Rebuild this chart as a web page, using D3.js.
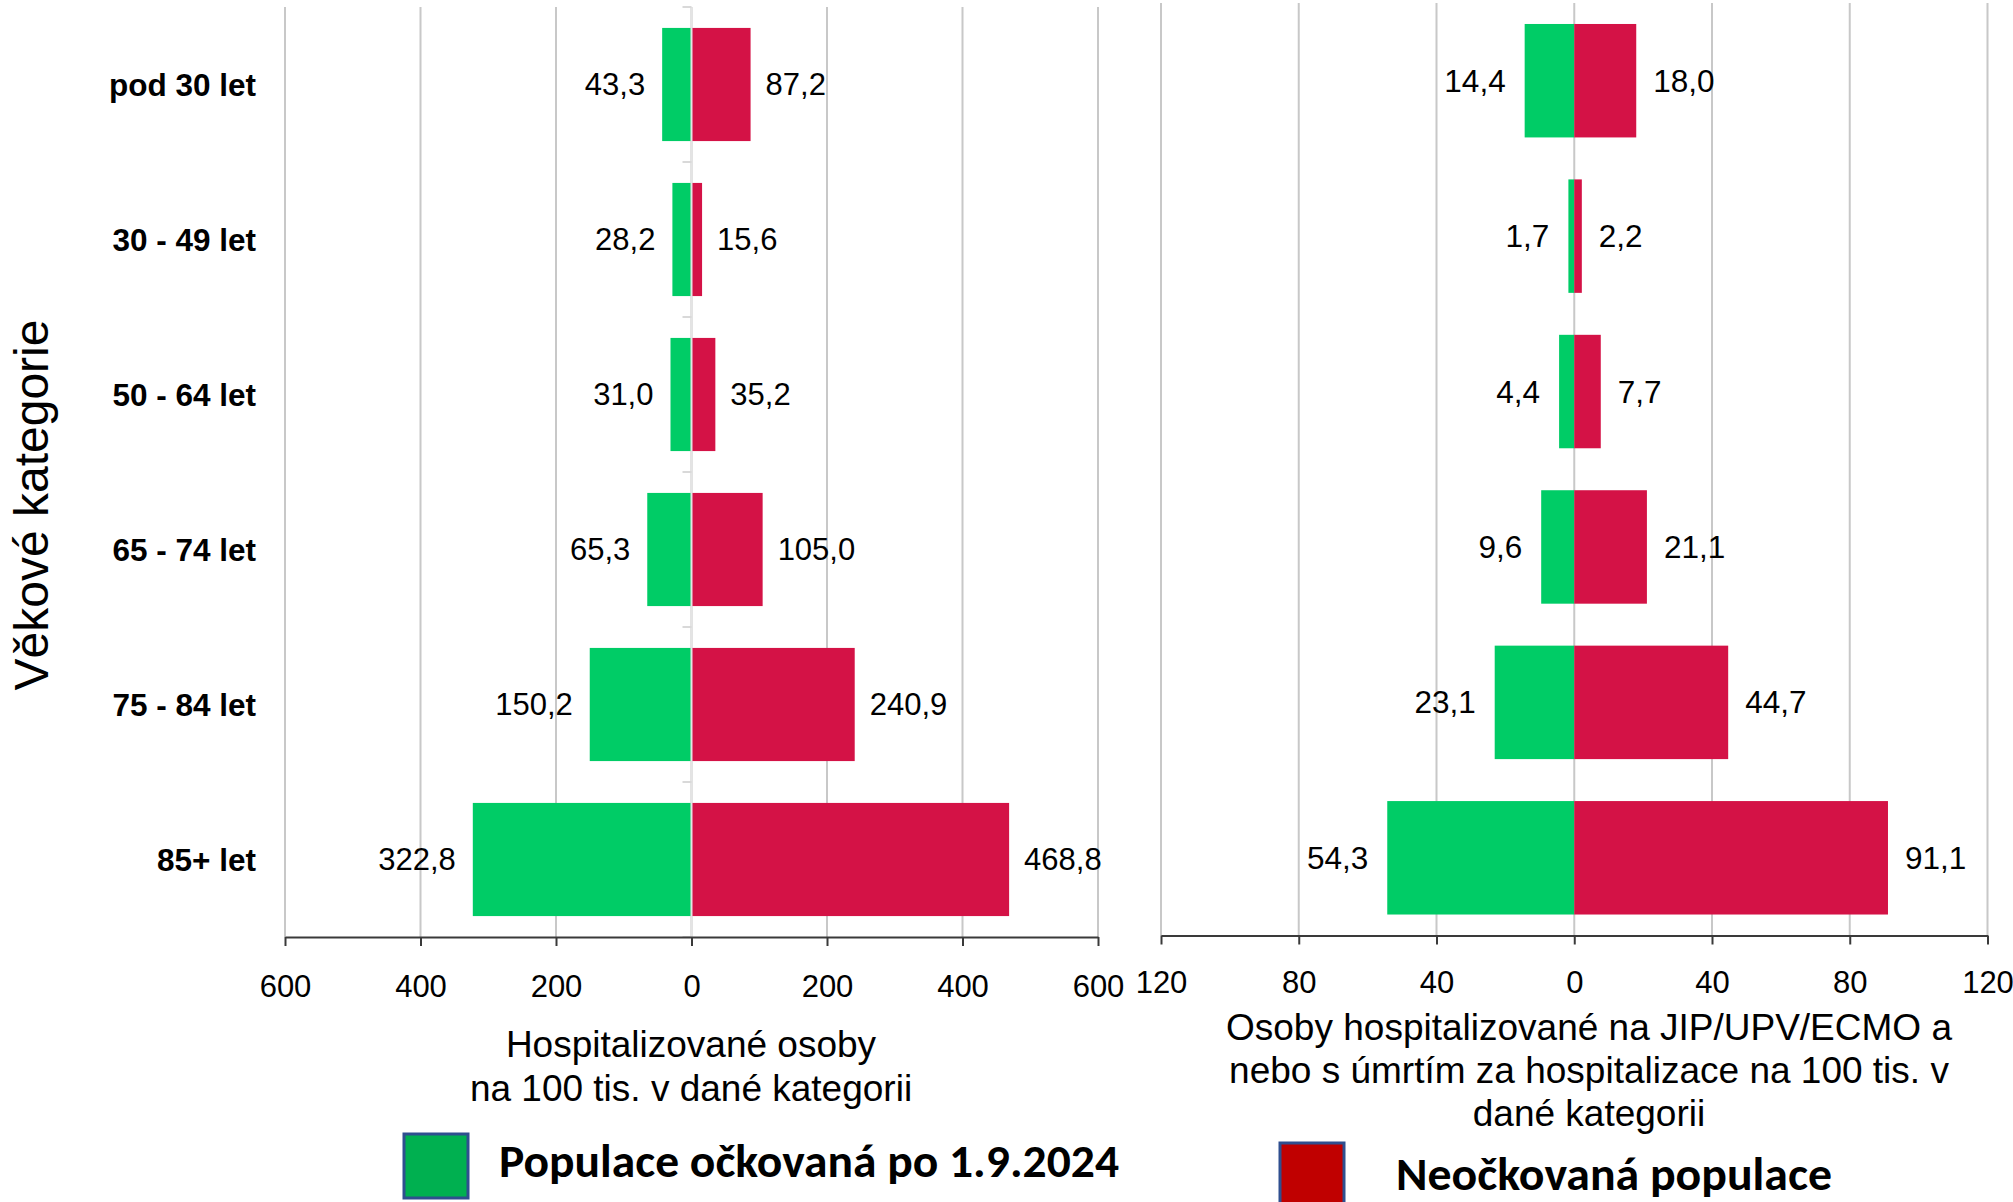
<!DOCTYPE html>
<html>
<head>
<meta charset="utf-8">
<script src="https://cdn.jsdelivr.net/npm/d3@7"></script>
<style>
  body { margin: 0; background: #fff; }
  svg { display: block; }
  text { font-family: "Liberation Sans", Arial, sans-serif; fill: #000; }
</style>
</head>
<body>
<svg id="chart" width="2013" height="1202"></svg>
<script>
// Age groups and rates per 100k people in the group
const categories = ["pod 30 let", "30 - 49 let", "50 - 64 let", "65 - 74 let", "75 - 84 let", "85+ let"];
const hospVaccinated = [43.3, 28.2, 31.0, 65.3, 150.2, 322.8];
const hospUnvaccinated = [87.2, 15.6, 35.2, 105.0, 240.9, 468.8];
const severeVaccinated = [14.4, 1.7, 4.4, 9.6, 23.1, 54.3];
const severeUnvaccinated = [18.0, 2.2, 7.7, 21.1, 44.7, 91.1];
const hospTicks = [-600, -400, -200, 0, 200, 400, 600];
const severeTicks = [-120, -80, -40, 0, 40, 80, 120];
const hospTitle = ["Hospitalizované osoby", "na 100 tis. v dané kategorii"];
const severeTitle = ["Osoby hospitalizované na JIP/UPV/ECMO a", "nebo s úmrtím za hospitalizace na 100 tis. v", "dané kategorii"];
const yTitle = "Věkové kategorie";
const legendLabels = ["Populace očkovaná po 1.9.2024", "Neočkovaná populace"];

const GREEN = "#00cc66", RED = "#d41246";
const fmt = v => d3.format(".1f")(v).replace(".", ",");

const svg = d3.select("#chart");
svg.append("rect").attr("width", 2013).attr("height", 1202).attr("fill", "#fff");

function panel(cfg) {
  const x = d3.scaleLinear().domain([cfg.ticks[0], cfg.ticks[cfg.ticks.length - 1]]).range(cfg.xRange);
  const y = d3.scaleBand().domain(categories).range([cfg.top, cfg.axisY])
    .paddingInner(0.27).paddingOuter(0.135);
  const g = svg.append("g");

  // vertical gridlines
  g.selectAll("line.grid").data(cfg.ticks).join("line")
    .attr("x1", d => x(d)).attr("x2", d => x(d))
    .attr("y1", cfg.top).attr("y2", cfg.axisY)
    .attr("stroke", "#c8c8c8").attr("stroke-width", 2);

  // bars: vaccinated to the left, unvaccinated to the right
  g.selectAll("rect.vac").data(categories).join("rect")
    .attr("x", (d, i) => x(-cfg.vac[i])).attr("y", d => y(d))
    .attr("width", (d, i) => x(0) - x(-cfg.vac[i])).attr("height", y.bandwidth())
    .attr("fill", GREEN);
  g.selectAll("rect.unvac").data(categories).join("rect")
    .attr("x", x(0)).attr("y", d => y(d))
    .attr("width", (d, i) => x(cfg.unvac[i]) - x(0)).attr("height", y.bandwidth())
    .attr("fill", RED);

  if (cfg.categoryAxis) {
    g.append("line").attr("x1", x(0)).attr("x2", x(0))
      .attr("y1", cfg.top).attr("y2", cfg.axisY)
      .attr("stroke", "#e4e4e4").attr("stroke-width", 2);
    const step = y.step();
    g.selectAll("line.ctick").data(d3.range(categories.length + 1)).join("line")
      .attr("x1", x(0) - 9).attr("x2", x(0))
      .attr("y1", i => cfg.top + i * step).attr("y2", i => cfg.top + i * step)
      .attr("stroke", "#d9d9d9").attr("stroke-width", 2);
  }

  // value labels
  g.selectAll("text.vl").data(categories).join("text")
    .attr("x", (d, i) => x(-cfg.vac[i]) - cfg.gapL)
    .attr("y", d => y(d) + y.bandwidth() / 2).attr("dy", "0.35em")
    .attr("text-anchor", "end").style("font-size", cfg.labelSize + "px")
    .text((d, i) => fmt(cfg.vac[i]));
  g.selectAll("text.vr").data(categories).join("text")
    .attr("x", (d, i) => x(cfg.unvac[i]) + cfg.gapR)
    .attr("y", d => y(d) + y.bandwidth() / 2).attr("dy", "0.35em")
    .attr("text-anchor", "start").style("font-size", cfg.labelSize + "px")
    .text((d, i) => fmt(cfg.unvac[i]));

  // bottom axis
  const ax = g.append("g").attr("transform", `translate(0,${cfg.axisY})`)
    .call(d3.axisBottom(x).tickValues(cfg.ticks).tickFormat(d => Math.abs(d))
      .tickSize(9).tickSizeOuter(0).tickPadding(cfg.tickPad));
  ax.select(".domain").attr("stroke", "#3a3a3a").attr("stroke-width", 2);
  ax.selectAll(".tick line").attr("stroke", "#3a3a3a").attr("stroke-width", 2);
  ax.selectAll(".tick text").attr("fill", "#000")
    .style("font-family", '"Liberation Sans", Arial, sans-serif').style("font-size", "31px");

  // axis title
  g.selectAll("text.title").data(cfg.title).join("text")
    .attr("x", cfg.titleX).attr("y", (d, i) => cfg.titleY + i * cfg.titleLead)
    .attr("text-anchor", "middle").style("font-size", "37px").text(d => d);

  return y;
}

const yLeft = panel({
  xRange: [285, 1098], top: 7, axisY: 937, ticks: hospTicks,
  vac: hospVaccinated, unvac: hospUnvaccinated, categoryAxis: true,
  gapL: 17, gapR: 15, labelSize: 31, tickPad: 29,
  title: hospTitle, titleX: 691, titleY: 1057, titleLead: 44
});

panel({
  xRange: [1161, 1987.5], top: 3, axisY: 935.5, ticks: severeTicks,
  vac: severeVaccinated, unvac: severeUnvaccinated, categoryAxis: false,
  gapL: 19, gapR: 17, labelSize: 31.5, tickPad: 26,
  title: severeTitle, titleX: 1589, titleY: 1040, titleLead: 43
});

// category labels
svg.selectAll("text.cat").data(categories).join("text")
  .attr("x", 256).attr("y", d => yLeft(d) + yLeft.bandwidth() / 2).attr("dy", "0.35em")
  .attr("text-anchor", "end").style("font-size", "31.5px").style("font-weight", "bold")
  .text(d => d);

// y axis title
svg.append("text").attr("transform", "translate(48,505) rotate(-90)")
  .attr("text-anchor", "middle").style("font-size", "48px").text(yTitle);

// legend
const legend = [
  { label: legendLabels[0], fill: "#00b050", sx: 404, sy: 1134, tx: 499, ty: 1177, w: 620 },
  { label: legendLabels[1], fill: "#c00000", sx: 1280, sy: 1143, tx: 1396, ty: 1190, w: 436 }
];
svg.selectAll("rect.leg").data(legend).join("rect")
  .attr("x", d => d.sx).attr("y", d => d.sy).attr("width", 64).attr("height", 64)
  .attr("fill", d => d.fill).attr("stroke", "#2f4f8f").attr("stroke-width", 3);
svg.selectAll("text.leg").data(legend).join("text")
  .attr("x", d => d.tx).attr("y", d => d.ty)
  .attr("textLength", d => d.w).attr("lengthAdjust", "spacingAndGlyphs")
  .style("font-family", 'Carlito, Lato, "Open Sans", sans-serif')
  .style("font-weight", "bold").style("font-size", "46px")
  .text(d => d.label);
</script>
</body>
</html>
